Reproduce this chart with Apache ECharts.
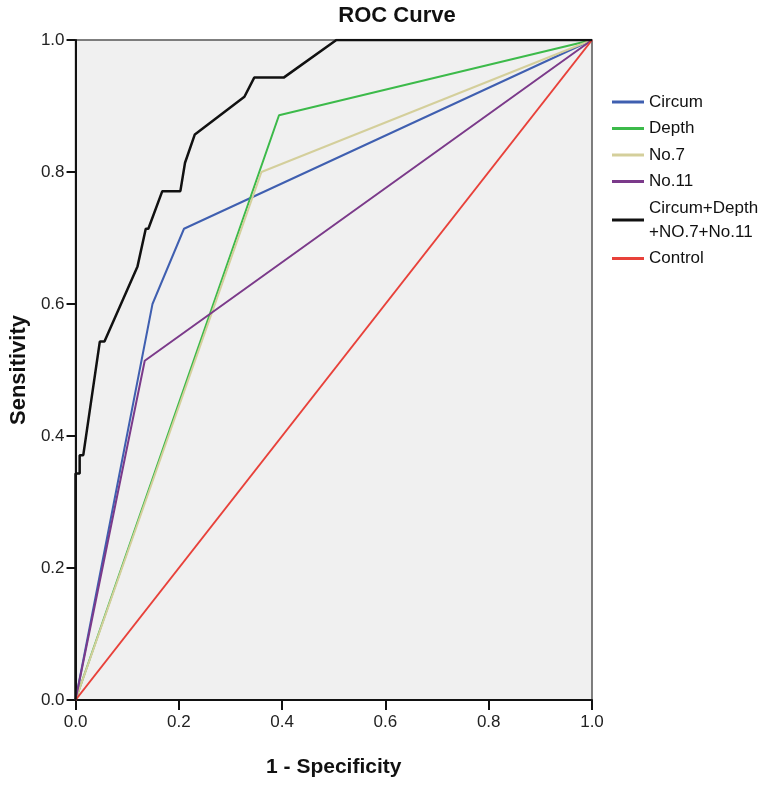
<!DOCTYPE html>
<html>
<head>
<meta charset="utf-8">
<script src="https://cdn.jsdelivr.net/npm/echarts@6/dist/echarts.min.js"></script>
<style>
html,body{margin:0;padding:0;background:#fff;}
#c{width:767px;height:786px;}
</style>
</head>
<body>
<div id="c"></div>
<script>
// [1 - Specificity, Sensitivity]
var circum = [[0,0],[0.149,0.600],[0.210,0.714],[1,1]];
var depth = [[0,0],[0.394,0.886],[1,1]];
var no7 = [[0,0],[0.360,0.800],[1,1]];
var no11 = [[0,0],[0.134,0.514],[1,1]];
var combined = [[0,0],[0,0.343],[0.008,0.343],[0.008,0.371],[0.015,0.371],[0.047,0.543],[0.056,0.543],[0.120,0.657],[0.136,0.714],[0.141,0.714],[0.168,0.771],[0.203,0.771],[0.212,0.814],[0.231,0.857],[0.327,0.914],[0.346,0.943],[0.403,0.943],[0.505,1],[1,1]];
var control = [[0,0],[1,1]];
var seriesNames = ['Circum','Depth','No.7','No.11','Circum+Depth\n+NO.7+No.11','Control'];
var seriesColors = ['#3f5fb0','#3cba4a','#d4cf9b','#7b3a8a','#111111','#e8413a'];
var seriesWidths = [2,2,2,2,2.5,2];
var seriesData = [circum, depth, no7, no11, combined, control];
var axisTicks = [0.0,0.2,0.4,0.6,0.8,1.0];

var chart = echarts.init(document.getElementById('c'));
var font = 'Liberation Sans, Arial, sans-serif';
chart.setOption({
  animation:false,
  backgroundColor:'#ffffff',
  title:{text:'ROC Curve',left:397,textAlign:'center',top:5,padding:0,
    textStyle:{fontFamily:font,fontSize:22,fontWeight:'bold',color:'#111'}},
  legend:{
    orient:'vertical',left:612,top:90,padding:0,itemWidth:32,itemHeight:3,itemGap:2.5,icon:'rect',
    textStyle:{fontFamily:font,fontSize:17,color:'#111',lineHeight:24},
    data:seriesNames
  },
  grid:{left:69,right:175,top:40,bottom:86,show:true,backgroundColor:'#f0f0f0',borderColor:'#555',borderWidth:1.5},
  xAxis:{type:'value',min:0,max:1,interval:0.2,
    name:'1 - Specificity',nameLocation:'middle',nameGap:57,
    nameTextStyle:{fontFamily:font,fontSize:21,fontWeight:'bold',color:'#111'},
    axisLine:{show:true,lineStyle:{color:'#111',width:2}},
    axisTick:{show:true,length:10,lineStyle:{color:'#111',width:2}},
    axisLabel:{fontFamily:font,fontSize:17,color:'#222',margin:14,formatter:function(v){return v.toFixed(1);}},
    splitLine:{show:false}},
  yAxis:{type:'value',min:0,max:1,interval:0.2,
    name:'Sensitivity',nameLocation:'middle',nameGap:43,
    nameTextStyle:{fontFamily:font,fontSize:22,fontWeight:'bold',color:'#111'},
    axisLine:{show:true,lineStyle:{color:'#111',width:2}},
    axisTick:{show:true,length:9,lineStyle:{color:'#111',width:2}},
    axisLabel:{fontFamily:font,fontSize:17,color:'#222',margin:11,formatter:function(v){return v.toFixed(1);}},
    splitLine:{show:false}},
  series:seriesNames.map(function(n,i){
    return {name:n,type:'line',data:seriesData[i],symbol:'none',
      lineStyle:{color:seriesColors[i],width:seriesWidths[i]},itemStyle:{color:seriesColors[i]},z:(i===4?5:3)};
  })
});
</script>
</body>
</html>
